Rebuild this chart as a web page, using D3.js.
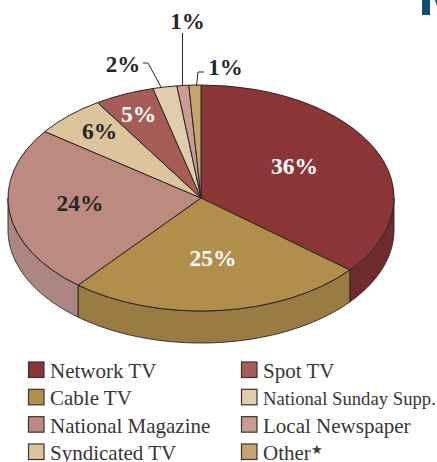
<!DOCTYPE html>
<html>
<head>
<meta charset="utf-8">
<script src="https://cdn.jsdelivr.net/npm/d3@7"></script>
<style>
html, body { margin: 0; padding: 0; background: #fff; }
svg { display: block; }
text { font-family: "Liberation Serif", serif; }
</style>
</head>
<body>
<div id="chart"></div>
<script>
const categories = ['Network TV', 'Cable TV', 'National Magazine', 'Syndicated TV', 'Spot TV', 'National Sunday Supp.', 'Local Newspaper', 'Other']
const shares = [36, 25, 24, 6, 5, 2, 1, 1]
const topColors = ['#8c3537', '#b18f4b', '#bd8a7f', '#dcc59d', '#a65c57', '#dfcdac', '#c99b92', '#c5a56f']
const wallColors = ['#6f2a2b', '#9a7c42', '#ab8682', '#c4ae8b', '#8c4e4a', '#c6b698', '#b08a82', '#ad9162']
const legendRows = [0, 1, 2, 3]

const width = 437, height = 462
const cx = 201, cy = 198, rx = 193, ry = 113, depth = 32
const ink = '#2b2626'

let svg = d3.select('#chart')
.append('svg')
.attr('width', width)
.attr('height', height)

// corner of the next page's heading, cut off in the scan
svg.append('rect')
.attr('x', 422).attr('y', 0)
.attr('width', 8).attr('height', 15)
.attr('fill', '#0f4f73')
svg.append('path')
.attr('d', d3.line()([[435, 0], [437, 0], [437, 6]]))
.attr('fill', '#0f4f73')

let pie = d3.pie().sort(null)
let slices = pie(shares)

let px = t => cx + rx * Math.sin(t)
let py = (t, dy) => cy - ry * Math.cos(t) + dy

// side wall, only the front half of the ellipse shows
slices.forEach((s, i) => {
	const a0 = Math.max(s.startAngle, Math.PI / 2)
	const a1 = Math.min(s.endAngle, Math.PI * 3 / 2)
	if (a1 <= a0) return
	const ts = d3.range(0, 61).map(k => a0 + (a1 - a0) * k / 60)
	const outline = ts.map(t => [px(t), py(t, 0)]).concat(ts.slice().reverse().map(t => [px(t), py(t, depth)]))
	svg.append('path')
	.attr('d', d3.line().curve(d3.curveLinearClosed)(outline))
	.attr('fill', wallColors[i])
	.attr('stroke', ink)
	.attr('stroke-width', 0.9)
	.attr('stroke-linejoin', 'round')
})

// top face, a unit pie squashed to the ellipse
let arc = d3.arc().innerRadius(0).outerRadius(1)

svg.append('g')
.attr('transform', `translate(${cx},${cy}) scale(${rx},${ry})`)
.selectAll('path')
.data(slices)
.join('path')
.attr('d', arc)
.attr('fill', (d, i) => topColors[i])
.attr('stroke', ink)
.attr('stroke-width', 1)
.attr('vector-effect', 'non-scaling-stroke')
.attr('stroke-linejoin', 'round')

// value labels: share, x, y, colour
const pctX = [294.5, 213, 80, 99.5, 138.5]
const pctY = [174, 266, 211, 139, 122]
const pctFill = ['#fff', '#fff', ink, ink, '#fff']

svg.append('g')
.selectAll('text')
.data(shares.slice(0, 5))
.join('text')
.attr('x', (d, i) => pctX[i])
.attr('y', (d, i) => pctY[i])
.attr('text-anchor', 'middle')
.attr('font-size', 23.5)
.attr('font-weight', 'bold')
.attr('fill', (d, i) => pctFill[i])
.text(d => d + '%')

// small slices get leader lines
const outerX = [123, 187.5, 225.5]
const outerY = [72, 28.5, 75]
const outerShare = [shares[5], shares[6], shares[7]]
const leaders = [
	[[143, 63], [148, 63], [161, 87]],
	[[182.5, 33], [182.5, 86]],
	[[204, 72], [198, 72], [196.5, 86]]
]

svg.append('g')
.selectAll('text')
.data(outerShare)
.join('text')
.attr('x', (d, i) => outerX[i])
.attr('y', (d, i) => outerY[i])
.attr('text-anchor', 'middle')
.attr('font-size', 23)
.attr('font-weight', 'bold')
.attr('fill', ink)
.text(d => d + '%')

svg.append('g')
.selectAll('path')
.data(leaders)
.join('path')
.attr('d', d3.line())
.attr('fill', 'none')
.attr('stroke', ink)
.attr('stroke-width', 1)

// legend, two columns of four
let legendX = d3.scalePoint().domain([0, 1]).range([28.5, 241.5])
let legendY = d3.scalePoint().domain(legendRows).range([362, 444])

let legend = svg.append('g')
.selectAll('g')
.data(categories)
.join('g')
.attr('transform', (d, i) => `translate(${legendX(Math.floor(i / 4))},${legendY(i % 4)})`)

legend.append('rect')
.attr('width', 15.5)
.attr('height', 15.5)
.attr('fill', (d, i) => topColors[i])
.attr('stroke', '#3a3333')
.attr('stroke-width', 1.2)

legend.append('text')
.attr('x', 21.5)
.attr('y', 16)
.attr('font-size', d => d == 'National Sunday Supp.' ? 18.7 : 21)
.attr('fill', '#3a3535')
.text(d => d)

legend.filter(d => d == 'Other')
.select('text')
.append('tspan')
.attr('font-size', 13)
.attr('dy', -6)
.text('★')
</script>
</body>
</html>
